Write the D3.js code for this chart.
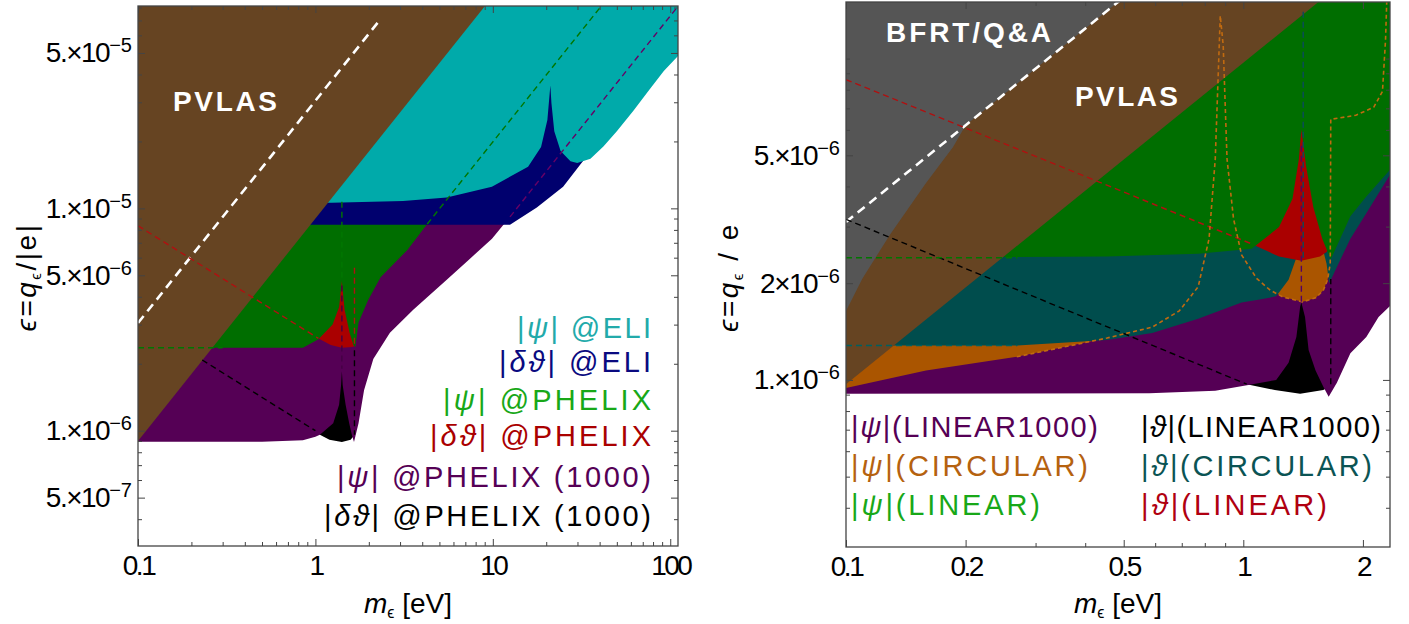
<!DOCTYPE html>
<html>
<head>
<meta charset="utf-8">
<script src="https://cdn.jsdelivr.net/npm/d3@7"></script>
<style>
body { margin: 0; background: #fff; }
</style>
</head>
<body>
<div id="chart"></div>
<script>
// ---------- left panel: boundaries as [m (eV), epsilon] ----------
const leftPvlas = [[0.1, 9.0e-7], [10, 9.0e-5]];
const leftBlack = [[0.1, 3.16e-6], [1.0, 1.0e-6], [1.06, 9.6e-7], [1.2, 9.1e-7], [1.41, 8.9e-7], [1.58, 9.1e-7], [1.63, 9.4e-7], [1.66, 9.6e-7]];
const leftPurple = [[0.1, 8.93e-7], [0.5, 8.93e-7], [0.85, 9.05e-7], [1.0, 9.4e-7], [1.06, 9.6e-7], [1.26, 1.08e-6], [1.36, 1.31e-6],
  [1.395, 1.6e-6], [1.41, 1.85e-6], [1.425, 1.6e-6], [1.48, 1.31e-6], [1.55, 1.08e-6], [1.61, 9.5e-7], [1.65, 8.9e-7], [1.75, 1.08e-6],
  [1.88, 1.52e-6], [2.12, 2.1e-6], [2.63, 2.76e-6], [3.56, 3.5e-6], [5.52, 4.79e-6], [7.2, 5.8e-6], [9.89, 7.3e-6], [12.5, 9.16e-6], [120, 8.8e-5]];
const leftRed = [[0.1, 8.35e-6], [1.04, 2.6e-6], [1.22, 2.43e-6], [1.41, 2.36e-6], [1.61, 2.38e-6], [1.66, 2.4e-6]];
const leftGreen = [[0.1, 2.36e-6], [0.85, 2.36e-6], [1.04, 2.58e-6], [1.25, 3.0e-6], [1.36, 3.6e-6], [1.41, 4.7e-6], [1.46, 3.5e-6],
  [1.56, 2.75e-6], [1.64, 2.42e-6], [1.68, 2.38e-6], [1.75, 3.07e-6], [1.98, 3.86e-6], [2.33, 4.9e-6], [3.3, 6.5e-6], [4.27, 8.5e-6], [50, 9.95e-5]];
const leftNavy = [[0.1, 8.43e-6], [12.5, 8.43e-6], [17.7, 1.01e-5], [24.9, 1.25e-5], [31.6, 1.6e-5], [200, 1.0e-4]];
const leftCyan = [[0.1, 1.06e-5], [1.23, 1.06e-5], [3.12, 1.08e-5], [5.5, 1.12e-5], [9.88, 1.25e-5], [15.8, 1.54e-5], [18.7, 1.89e-5],
  [20.3, 2.5e-5], [21.1, 3.57e-5], [21.4, 2.97e-5], [22.2, 2.22e-5], [24.1, 1.81e-5], [27.4, 1.63e-5], [29.9, 1.6e-5], [35.5, 1.67e-5],
  [42, 1.9e-5], [50, 2.22e-5], [62, 2.75e-5], [75.3, 3.37e-5], [92, 4.15e-5], [115, 5.0e-5]];

const leftWhiteDash = [[0.1, 3.05e-6], [2.33, 7.1e-5]];
const leftRedDash = [[0.1, 8.35e-6], [1.04, 2.6e-6]];
const leftBlackDash = [[0.23, 2.08e-6], [1.0, 1.0e-6]];
const leftGreenDash = [[0.1, 2.36e-6], [0.3, 2.36e-6]];
const leftGreenDiag = [[4.27, 8.5e-6], [45, 8.95e-5]];
const leftPurpleDiag = [[12.5, 9.16e-6], [120, 8.8e-5]];
const leftGreenVert = [[1.41, 1.07e-5], [1.41, 4.7e-6]];
const leftPurpleVert = [[1.41, 4.5e-6], [1.41, 1.9e-6]];
const leftRedVert = [[1.66, 5.4e-6], [1.66, 2.45e-6]];
const leftBlackVert = [[1.66, 2.3e-6], [1.66, 9.6e-7]];

const leftXMajor = [0.1, 1, 10, 100];
const leftYMajor = [5e-7, 1e-6, 5e-6, 1e-5, 5e-5];
const leftYMantissa = ["5.", "1.", "5.", "1.", "5."];
const leftLegend = ["|ψ| @ELI", "|δϑ| @ELI", "|ψ| @PHELIX", "|δϑ| @PHELIX", "|ψ| @PHELIX (1000)", "|δϑ| @PHELIX (1000)"];
const leftLegendColors = ["#22AAAA", "#0A0A80", "#18A818", "#AA0000", "#550055", "#000000"];

// ---------- right panel ----------
const rightPvlas = [[0.1, 9.7e-7], [1.7, 1.65e-5]];
const rightGray = [[0.1, 1.64e-6], [0.11, 2.07e-6], [0.129, 2.83e-6], [0.159, 4.1e-6], [0.186, 5.31e-6], [0.2, 6.2e-6], [0.5, 1.55e-5]];
const rightBlack = [[0.1, 3.16e-6], [1.02, 9.7e-7], [1.2, 9.3e-7], [1.39, 9.05e-7], [1.59, 9.3e-7], [1.64, 9.5e-7], [1.66, 9.7e-7]];
const rightPurple = [[0.1, 9.05e-7], [0.58, 9.09e-7], [0.85, 9.25e-7], [1.03, 9.65e-7], [1.21, 1.0e-6], [1.30, 1.13e-6], [1.36, 1.36e-6],
  [1.39, 1.69e-6], [1.40, 1.74e-6], [1.43, 1.57e-6], [1.46, 1.24e-6], [1.52, 1.07e-6], [1.59, 9.53e-7], [1.64, 8.87e-7], [1.72, 9.8e-7],
  [1.86, 1.21e-6], [2.04, 1.36e-6], [2.19, 1.57e-6], [2.4, 1.75e-6]];
const rightOrange = [[0.1, 9.44e-7], [0.159, 1.07e-6], [0.269, 1.18e-6], [0.454, 1.35e-6], [0.59, 1.46e-6], [0.69, 1.64e-6], [0.77, 1.95e-6],
  [0.82, 2.75e-6], [0.85, 4.87e-6], [0.875, 1.36e-5], [0.89, 1.1e-5], [0.91, 4.87e-6], [0.945, 3.17e-6], [0.99, 2.45e-6], [1.08, 2.07e-6],
  [1.17, 1.9e-6], [1.26, 1.81e-6], [1.41, 1.75e-6], [1.52, 1.8e-6], [1.59, 1.9e-6], [1.63, 2.05e-6], [1.655, 2.3e-6], [1.66, 6.47e-6],
  [1.92, 6.66e-6], [2.13, 7.06e-6], [2.24, 7.9e-6], [2.28, 1.14e-5], [2.3, 1.6e-5]];
const rightTeal = [[0.1, 1.28e-6], [0.27, 1.28e-6], [0.454, 1.33e-6], [0.59, 1.40e-6], [0.77, 1.55e-6], [0.99, 1.74e-6], [1.1, 1.78e-6],
  [1.21, 1.82e-6], [1.30, 2.05e-6], [1.36, 2.4e-6], [1.39, 5e-6], [1.405, 1.45e-5], [1.415, 5e-6], [1.5, 3.2e-6], [1.58, 2.6e-6],
  [1.62, 2.3e-6], [1.645, 2.0e-6], [1.75, 2.35e-6], [1.86, 2.75e-6], [2.04, 3.3e-6], [2.34, 4.35e-6], [2.4, 4.5e-6]];
const rightRed = [[0.1, 8.6e-6], [1.05, 2.65e-6], [1.23, 2.42e-6], [1.40, 2.35e-6], [1.56, 2.42e-6], [1.62, 2.5e-6], [1.66, 2.6e-6]];
const rightGreen = [[0.1, 2.4e-6], [0.454, 2.42e-6], [0.77, 2.47e-6], [1.05, 2.56e-6], [1.23, 2.99e-6], [1.33, 3.66e-6], [1.38, 4.87e-6],
  [1.40, 6.0e-6], [1.44, 4.6e-6], [1.50, 3.45e-6], [1.58, 2.75e-6], [1.62, 2.55e-6], [1.66, 2.37e-6], [1.86, 3.23e-6], [2.04, 3.72e-6],
  [2.34, 4.51e-6], [2.4, 4.7e-6]];

const rightWhiteDash = [[0.1, 3.1e-6], [0.5, 1.55e-5]];
const rightRedDash = [[0.1, 8.6e-6], [1.05, 2.65e-6]];
const rightBlackDash = [[0.1, 3.16e-6], [1.02, 9.7e-7]];
const rightGreenDash = [[0.1, 2.4e-6], [0.27, 2.4e-6]];
const rightTealDash = [[0.1, 1.28e-6], [0.27, 1.28e-6]];
const rightTealVert = [[1.415, 2.4e-6], [1.415, 1.4e-5]];
const rightPurpleVert = [[1.40, 1.75e-6], [1.40, 5.5e-6]];
const rightBlackVert = [[1.66, 9.7e-7], [1.66, 2.06e-6]];

const rightXMajor = [0.1, 0.2, 0.5, 1, 2];
const rightYMajor = [1e-6, 2e-6, 5e-6];
const rightYMantissa = ["1.", "2", "5."];
const rightLegendPsi = ["|ψ|(LINEAR1000)", "|ψ|(CIRCULAR)", "|ψ|(LINEAR)"];
const rightLegendPsiColors = ["#550055", "#B5620F", "#18A818"];
const rightLegendTheta = ["|ϑ|(LINEAR1000)", "|ϑ|(CIRCULAR)", "|ϑ|(LINEAR)"];
const rightLegendThetaColors = ["#000000", "#0B5454", "#B00010"];

// ---------- drawing ----------
const FONT = "'Liberation Sans', Arial, sans-serif";
const TOP = 1e-3;

const svg = d3.select("#chart").append("svg")
    .attr("width", 1409)
    .attr("height", 624)
    .style("background", "#fff");

function above(curve) {
    const a = curve[0], b = curve[curve.length - 1];
    return curve.concat([[b[0], TOP], [a[0], TOP]]);
}

function makePanel(p) {
    const x = d3.scaleLog().domain(p.xDomain).range([p.left, p.right]);
    const y = d3.scaleLog().domain(p.yDomain).range([p.bottom, p.top]);
    const line = d3.line().x(d => x(d[0])).y(d => y(d[1]));

    svg.append("clipPath").attr("id", p.id)
        .append("rect")
        .attr("x", p.left).attr("y", p.top)
        .attr("width", p.right - p.left).attr("height", p.bottom - p.top);

    const plot = svg.append("g").attr("clip-path", `url(#${p.id})`);

    p.regions.forEach(r => {
        plot.append("path")
            .attr("d", line(above(r[0])) + "Z")
            .attr("fill", r[1]);
    });

    p.dashes.forEach(r => {
        plot.append("path")
            .attr("d", line(r[0]))
            .attr("fill", "none")
            .attr("stroke", r[1])
            .attr("stroke-width", r[2] || 1.4)
            .attr("stroke-dasharray", r[3] || "6,4");
    });

    // frame and inward ticks on all four sides
    const tidy = g => {
        g.select(".domain").remove();
        g.selectAll("line").attr("stroke", "#444");
    };
    const near = (arr, v) => arr.some(m => Math.abs(m - v) / m < 1e-6);
    const xMinor = x.ticks().filter(v => !near(p.xMajor, v));
    const yMinor = y.ticks().filter(v => !near(p.yMajor, v));

    const bottom = svg.append("g")
        .attr("transform", `translate(0,${p.bottom})`)
        .call(d3.axisBottom(x).tickValues(p.xMajor).tickSize(-7).tickPadding(9).tickFormat(d => String(d)))
        .call(tidy);
    bottom.attr("font-family", FONT).attr("font-size", 28);
    bottom.selectAll("text").attr("fill", "#000").attr("letter-spacing", -2.5);

    svg.append("g").attr("transform", `translate(0,${p.bottom})`)
        .call(d3.axisBottom(x).tickValues(xMinor).tickSize(-4).tickFormat(() => "")).call(tidy);
    svg.append("g").attr("transform", `translate(0,${p.top})`)
        .call(d3.axisTop(x).tickValues(p.xMajor).tickSize(-7).tickFormat(() => "")).call(tidy);
    svg.append("g").attr("transform", `translate(0,${p.top})`)
        .call(d3.axisTop(x).tickValues(xMinor).tickSize(-4).tickFormat(() => "")).call(tidy);

    const left = svg.append("g")
        .attr("transform", `translate(${p.left},0)`)
        .call(d3.axisLeft(y).tickValues(p.yMajor).tickSize(-7).tickPadding(6))
        .call(tidy);
    left.attr("font-family", FONT).attr("font-size", 28);
    left.selectAll("text").each(function (d, i) {
        const t = d3.select(this).text(null).attr("fill", "#000").attr("letter-spacing", -1.5);
        t.append("tspan").text(p.yMantissa[i] + "×10");
        t.append("tspan").attr("dy", -10).attr("font-size", 20).attr("letter-spacing", 0)
            .text("−" + Math.abs(Math.floor(Math.log10(d) + 1e-9)));
    });
    svg.append("g").attr("transform", `translate(${p.left},0)`)
        .call(d3.axisLeft(y).tickValues(yMinor).tickSize(-4).tickFormat(() => "")).call(tidy);
    svg.append("g").attr("transform", `translate(${p.right},0)`)
        .call(d3.axisRight(y).tickValues(p.yMajor).tickSize(-7).tickFormat(() => "")).call(tidy);
    svg.append("g").attr("transform", `translate(${p.right},0)`)
        .call(d3.axisRight(y).tickValues(yMinor).tickSize(-4).tickFormat(() => "")).call(tidy);

    svg.append("rect")
        .attr("x", p.left).attr("y", p.top)
        .attr("width", p.right - p.left).attr("height", p.bottom - p.top)
        .attr("fill", "none").attr("stroke", "#444").attr("stroke-width", 1.3);

    // axis titles
    const xt = svg.append("text")
        .attr("x", p.xTitle).attr("y", 613)
        .attr("text-anchor", "middle")
        .attr("font-family", FONT).attr("font-size", 28);
    xt.append("tspan").attr("font-style", "italic").text("m");
    xt.append("tspan").attr("font-size", 16).attr("dy", 5).text("ϵ");
    xt.append("tspan").attr("dy", -5).text(" [eV]");

    const yt = svg.append("text")
        .attr("transform", `translate(${p.yTitle[0]},277) rotate(-90)`)
        .attr("text-anchor", "middle")
        .attr("letter-spacing", p.yTitle[2])
        .attr("font-family", FONT).attr("font-size", 28);
    yt.append("tspan").attr("font-style", "italic").text("ϵ");
    yt.append("tspan").text("=");
    yt.append("tspan").attr("font-style", "italic").text("q");
    yt.append("tspan").attr("font-size", 15).attr("dy", 5).text("ϵ");
    yt.append("tspan").attr("dy", -5).text(p.yTitle[1]);
}

function richText(sel, s) {
    s.split(/([ψδϑ]+)/).forEach(part => {
        if (!part) return;
        const ts = sel.append("tspan").text(part);
        if (/[ψδϑ]/.test(part)) ts.attr("font-style", "italic");
    });
}

function label(s, xPos, yPos, color, width, anchor, size, bold) {
    const t = svg.append("text")
        .attr("x", xPos).attr("y", yPos)
        .attr("fill", color)
        .attr("text-anchor", anchor)
        .attr("font-family", FONT)
        .attr("font-size", size)
        .attr("font-weight", bold ? "bold" : "normal")
        .attr("textLength", width)
        .attr("lengthAdjust", "spacing");
    richText(t, s);
}

makePanel({
    id: "clipL", left: 138, right: 678, top: 6, bottom: 546,
    xDomain: [0.1, 110.6], yDomain: [3.03e-7, 8.13e-5],
    xMajor: leftXMajor, yMajor: leftYMajor, yMantissa: leftYMantissa,
    xTitle: 408, yTitle: [36, "/|e|", 2.5],
    regions: [
        [leftBlack, "#000000"], [leftPurple, "#550055"], [leftRed, "#AA0000"], [leftGreen, "#006E00"],
        [leftNavy, "#00006E"], [leftCyan, "#00AAAA"], [leftPvlas, "#664422"]
    ],
    dashes: [
        [leftWhiteDash, "#ffffff", 2.6, "9,6"], [leftRedDash, "#B01010"], [leftBlackDash, "#000000"],
        [leftGreenDash, "#007700"], [leftGreenDiag, "#007700"], [leftPurpleDiag, "#660066"],
        [leftGreenVert, "#007700"], [leftPurpleVert, "#440044"], [leftRedVert, "#B01010"], [leftBlackVert, "#000000"]
    ]
});

makePanel({
    id: "clipR", left: 846, right: 1390, top: 2, bottom: 547,
    xDomain: [0.1, 2.34], yDomain: [3.02e-7, 1.5e-5],
    xMajor: rightXMajor, yMajor: rightYMajor, yMantissa: rightYMantissa,
    xTitle: 1118, yTitle: [738, " / e", 2.5],
    regions: [
        [rightBlack, "#000000"], [rightPurple, "#550055"], [rightOrange, "#AA5500"], [rightTeal, "#004D4D"],
        [rightRed, "#AA0000"], [rightGreen, "#006E00"], [rightPvlas, "#664422"], [rightGray, "#555555"]
    ],
    dashes: [
        [rightWhiteDash, "#ffffff", 2.6, "9,6"], [rightRedDash, "#B01010"], [rightBlackDash, "#000000"],
        [rightGreenDash, "#007700"], [rightTealDash, "#006060"], [rightOrange.slice(2), "#C06A10", 1.6, "4,3"],
        [rightTealVert, "#0A4A5A"], [rightPurpleVert, "#550066"], [rightBlackVert, "#000000"]
    ]
});

// region names
label("PVLAS", 173, 111, "#ffffff", 104, "start", 28, true);
label("BFRT/Q&A", 886, 42, "#ffffff", 165, "start", 28, true);
label("PVLAS", 1075, 106, "#ffffff", 103, "start", 28, true);

// legends
const leftLegendY = [338, 372, 410, 446, 487, 526];
const leftLegendW = [134, 152, 208, 221, 314, 327];
leftLegend.forEach((s, i) => label(s, 651, leftLegendY[i], leftLegendColors[i], leftLegendW[i], "end", 29, false));

const rightLegendY = [437, 476, 515];
const rightPsiW = [247, 237, 189];
const rightThetaW = [240, 231, 186];
rightLegendPsi.forEach((s, i) => label(s, 851, rightLegendY[i], rightLegendPsiColors[i], rightPsiW[i], "start", 29, false));
rightLegendTheta.forEach((s, i) => label(s, 1141, rightLegendY[i], rightLegendThetaColors[i], rightThetaW[i], "start", 29, false));
</script>
</body>
</html>
